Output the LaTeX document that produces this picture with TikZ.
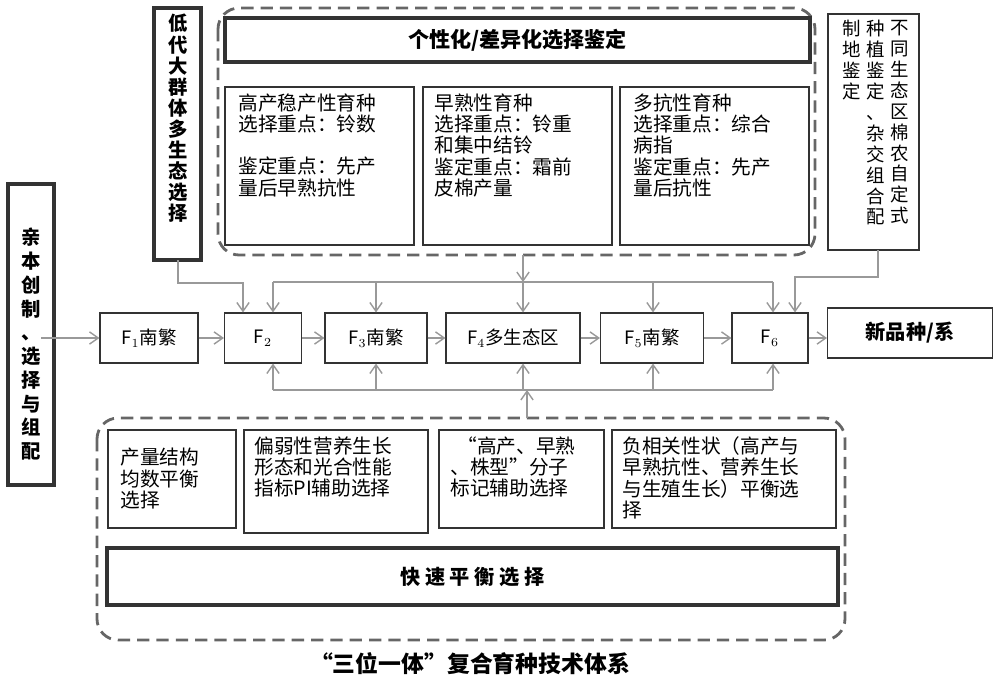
\documentclass[tikz,border=0pt]{standalone}
\usepackage{fontspec}
\setmainfont{Noto Sans CJK SC}
\usetikzlibrary{arrows.meta}
\tikzset{
  Box/.style={rectangle, draw=black!80, line width=0.6pt, inner sep=3pt, font=\fontsize{10.5}{12}\selectfont},
  ThickBox/.style={rectangle, draw=black!80, line width=2pt},
  Zone/.style={draw=black!60, line width=1.6pt, dash pattern=on 7pt off 4pt, rounded corners=12pt},
  Txt/.style={font=\fontsize{11.2}{12.2}\selectfont, align=left, anchor=north west, inner sep=0pt},
  VTxt/.style={font=\fontsize{10.5}{11.9}\selectfont, align=center, inner sep=0pt, anchor=north},
  Link/.style={draw=black!40, line width=0.8pt, -{Straight Barb[length=5pt,width=7pt]}},
  Bus/.style={draw=black!40, line width=0.8pt}
}
\begin{document}
\begin{tikzpicture}[x=0.02cm, y=-0.02cm]
    \useasboundingbox (0,0) rectangle (1000,686);

    % selection zones
    \draw[Zone] (218,8) rectangle (815,255);
    \draw[Zone] (97,418) rectangle (845,640);
    \draw[ThickBox] (225,18) rectangle node[font=\bfseries\fontsize{12}{14}\selectfont] (title) {个性化/差异化选择鉴定} (810,62);
    \draw[ThickBox] (107,548) rectangle node[font=\bfseries\fontsize{11.5}{13}\selectfont] (fast) {快\ 速\ 平\ 衡\ 选\ 择} (838,605);

    % side boxes
    \draw[ThickBox] (8,184) rectangle (54,485);
    \node[VTxt, font=\bfseries\fontsize{11}{13.5}\selectfont] (parent) at (31,228) {亲\\本\\创\\制\\、\\选\\择\\与\\组\\配};
    \draw[ThickBox] (154,8) rectangle (201,260);
    \node[VTxt, font=\bfseries\fontsize{11}{12}\selectfont] (lowgen) at (178,14) {低\\代\\大\\群\\体\\多\\生\\态\\选\\择};
    \draw[Box] (828,14) rectangle (919,250);
    \node[VTxt] (eco1) at (900,20) {不\\同\\生\\态\\区\\棉\\农\\自\\定\\式};
    \node[VTxt] (eco2) at (876,20) {种\\植\\鉴\\定\\、\\杂\\交\\组\\合\\配};
    \node[VTxt] (eco3) at (852,20) {制\\地\\鉴\\定};

    % breeding targets
    \draw[Box] (225,87) rectangle (414,245);
    \node[Txt] (yield) at (238,93) {高产稳产性育种\\选择重点：铃数\\[12pt]鉴定重点：先产\\量后早熟抗性};
    \draw[Box] (423,87) rectangle (612,245);
    \node[Txt] (early) at (434,93) {早熟性育种\\选择重点：铃重\\和集中结铃\\鉴定重点：霜前\\皮棉产量};
    \draw[Box] (620,87) rectangle (809,245);
    \node[Txt] (resist) at (633,93) {多抗性育种\\选择重点：综合\\病指\\鉴定重点：先产\\量后抗性};

    % assisted selection
    \draw[Box] (108,430) rectangle (236,528);
    \node[Txt] (struct) at (120,448) {产量结构\\均数平衡\\选择};
    \draw[Box] (244,430) rectangle (428,533);
    \node[Txt] (photo) at (254,436) {偏弱性营养生长\\形态和光合性能\\指标PI辅助选择};
    \draw[Box] (439,430) rectangle (604,528);
    \node[Txt] (marker) at (450,436) {\hspace{4pt}“高产、早熟\\、株型”分子\\标记辅助选择};
    \draw[Box] (612,430) rectangle (836,528);
    \node[Txt] (neg) at (622,436) {负相关性状（高产与\\早熟抗性、营养生长\\与生殖生长）平衡选\\择};

    % generations
    \path
    (149,338) node[Box, minimum width=98*0.02cm, minimum height=50*0.02cm] (f1) {F$_1$南繁}
    (263,338) node[Box, minimum width=77*0.02cm, minimum height=50*0.02cm] (f2) {F$_2$}
    (376,338) node[Box, minimum width=102*0.02cm, minimum height=50*0.02cm] (f3) {F$_3$南繁}
    (513,338) node[Box, minimum width=134*0.02cm, minimum height=50*0.02cm] (f4) {F$_4$多生态区}
    (652,338) node[Box, minimum width=103*0.02cm, minimum height=50*0.02cm] (f5) {F$_5$南繁}
    (770,338) node[Box, minimum width=76*0.02cm, minimum height=50*0.02cm] (f6) {F$_6$}
    (910,333) node[Box, minimum width=165*0.02cm, minimum height=50*0.02cm, font=\bfseries\fontsize{11.5}{13}\selectfont] (new) {新品种/系};

    \draw[Link] (parent.east |- f1) -- (f1);
    \draw[Link] (f1) -- (f2);
    \draw[Link] (f2) -- (f3);
    \draw[Link] (f3) -- (f4);
    \draw[Link] (f4) -- (f5);
    \draw[Link] (f5) -- (f6);
    \draw[Link] (f6) -- (new.west |- f6);

    % top bus
    \coordinate (tb) at (523,282);
    \coordinate (bb) at (527,390);
    \draw[Link] (523,255) -- (tb);
    \draw[Bus] (273,282) -- (773,282);
    \foreach \xx/\f in {273/f2, 376/f3, 523/f4, 653/f5, 773/f6}
      \draw[Link] (\xx,282) -- (\xx,0 |- \f.north);
    \draw[Link] (lowgen.south |- 0,260) |- (243,283) -- (243,0 |- f2.north);
    \draw[Link] (878,250) |- (795,277) -- (795,0 |- f6.north);

    % bottom bus
    \draw[Link] (527,418) -- (bb);
    \draw[Bus] (273,390) -- (773,390);
    \foreach \xx/\f in {273/f2, 376/f3, 523/f4, 653/f5, 773/f6}
      \draw[Link] (\xx,390) -- (\xx,0 |- \f.south);

    \node[font=\bfseries\fontsize{13}{15}\selectfont] (caption) at (470,664) {“三位一体”复合育种技术体系};
\end{tikzpicture}
\end{document}
